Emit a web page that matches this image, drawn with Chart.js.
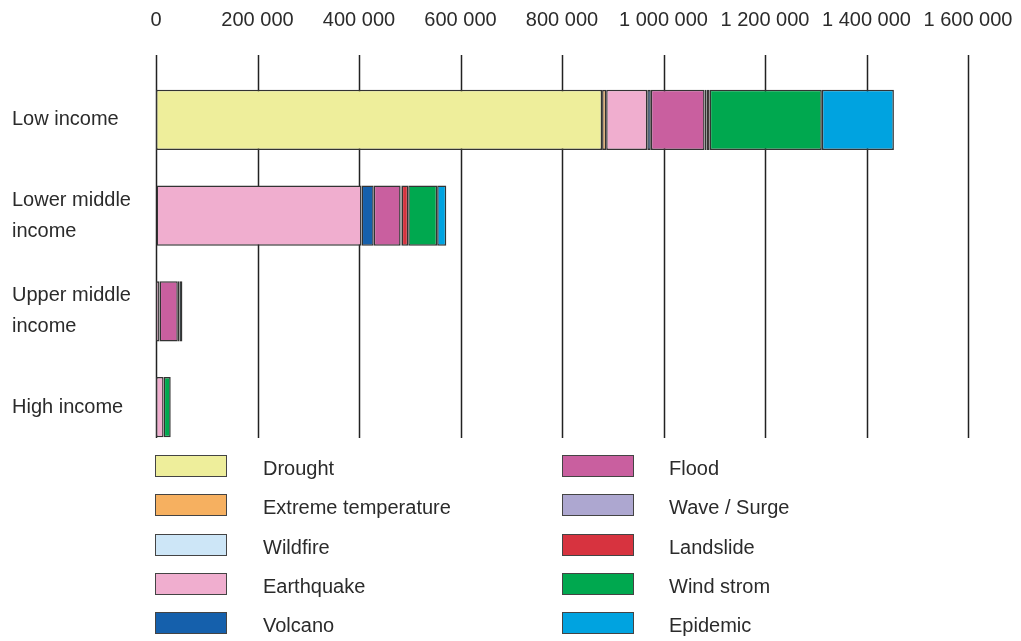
<!DOCTYPE html>
<html>
<head>
<meta charset="utf-8">
<script src="https://cdn.jsdelivr.net/npm/chart.js@4"></script>
<style>
  html, body { margin: 0; padding: 0; background: #fff; }
  #wrap { position: relative; width: 1021px; height: 641px; }
  #legend { position: absolute; left: 0; top: 0; width: 1021px; height: 641px; pointer-events: none;
    font-family: "Liberation Sans", Arial, sans-serif; font-size: 20px; color: #2b2b2b; }
  .item { position: absolute; height: 22px; display: flex; align-items: center; }
  .sw { width: 70px; height: 20px; border: 1.5px solid #444; box-sizing: content-box; }
  .lbl { position: absolute; white-space: nowrap; }
</style>
</head>
<body>
<div id="wrap">
  <canvas id="c" width="1021" height="641"></canvas>
  <div id="legend"></div>
</div>
<script>
(function () {
  "use strict";

  var categories = [["Low income"], ["Lower middle", "income"], ["Upper middle", "income"], ["High income"]];
  var xTicks = [0, 200000, 400000, 600000, 800000, 1000000, 1200000, 1400000, 1600000];

  var seriesNames = ["Drought", "Extreme temperature", "Wildfire", "Earthquake", "Volcano",
    "Flood", "Wave / Surge", "Landslide", "Wind strom", "Epidemic"];
  var seriesColors = ["#eeee9b", "#f6b060", "#cde6f7", "#f0aecf", "#1560ac",
    "#c95f9f", "#ada7d0", "#d7333f", "#00a84f", "#00a3e0"];

  var drought    = [879000, null, null, null];
  var extremeTmp = [8000, null, null, null];
  var wildfire   = [null, 1000, null, null];
  var earthquake = [81000, 404000, 7000, 15000];
  var volcano    = [7000, 24000, null, null];
  var flood      = [106000, 53000, 36000, null];
  var waveSurge  = [4000, 2000, null, null];
  var landslide  = [6000, 13000, null, null];
  var windStorm  = [221000, 57000, 3000, 14000];
  var epidemic   = [142000, 18000, 6000, null];

  var seriesData = [drought, extremeTmp, wildfire, earthquake, volcano,
    flood, waveSurge, landslide, windStorm, epidemic];

  var FONT = "'Liberation Sans', Arial, sans-serif";

  function fmt(v) {
    return String(v).replace(/\B(?=(\d{3})+(?!\d))/g, " ");
  }

  var datasets = seriesNames.map(function (name, i) {
    return {
      label: name,
      data: seriesData[i],
      backgroundColor: seriesColors[i],
      borderColor: "#333",
      borderWidth: 1.5,
      borderSkipped: false,
      barPercentage: 0.627,
      categoryPercentage: 1
    };
  });

  // vertical grid lines, drawn under the bars, offset upward like the original
  var gridPlugin = {
    id: "gridUnder",
    beforeDatasetsDraw: function (chart) {
      var ctx = chart.ctx, x = chart.scales.x, a = chart.chartArea;
      ctx.save();
      ctx.strokeStyle = "#222";
      ctx.lineWidth = 1.5;
      xTicks.forEach(function (v) {
        var px = Math.round(x.getPixelForValue(v)) + 0.5;
        ctx.beginPath();
        ctx.moveTo(px, a.top - 17);
        ctx.lineTo(px, a.bottom - 17);
        ctx.stroke();
      });
      ctx.restore();
    }
  };

  new Chart(document.getElementById("c").getContext("2d"), {
    type: "bar",
    data: { labels: categories, datasets: datasets },
    plugins: [gridPlugin],
    options: {
      responsive: false,
      animation: false,
      indexAxis: "y",
      layout: { padding: { left: 12, right: 53, top: 0, bottom: 186 } },
      scales: {
        x: {
          position: "top",
          stacked: true,
          min: 0,
          max: 1600000,
          afterBuildTicks: function (s) { s.ticks = xTicks.map(function (v) { return { value: v }; }); },
          afterFit: function (s) { s.height = 72; s.paddingLeft = 0; s.paddingRight = 0; },
          grid: { display: false, drawTicks: false },
          border: { display: false },
          ticks: {
            padding: 40,
            color: "#2b2b2b",
            font: { family: FONT, size: 20 },
            callback: function (v) { return fmt(v); }
          }
        },
        y: {
          stacked: true,
          afterFit: function (s) { s.width = 144; },
          grid: { display: false, drawTicks: false },
          border: { display: false },
          ticks: {
            crossAlign: "far",
            color: "#2b2b2b",
            font: { family: FONT, size: 20, lineHeight: 1.55 }
          }
        }
      },
      plugins: {
        legend: { display: false },
        tooltip: { enabled: false }
      }
    }
  });

  // two-column legend under the plot
  var legend = document.getElementById("legend");
  seriesNames.forEach(function (name, i) {
    var col = i < 5 ? 0 : 1;
    var row = i % 5;
    var top = 455 + row * 39.3;
    var sw = document.createElement("div");
    sw.className = "item";
    sw.style.left = (col ? 562 : 155) + "px";
    sw.style.top = top + "px";
    sw.innerHTML = '<div class="sw" style="background:' + seriesColors[i] + '"></div>';
    legend.appendChild(sw);
    var t = document.createElement("div");
    t.className = "lbl";
    t.textContent = name;
    t.style.left = (col ? 669 : 263) + "px";
    t.style.top = (top + 2) + "px";
    legend.appendChild(t);
  });
})();
</script>
</body>
</html>
